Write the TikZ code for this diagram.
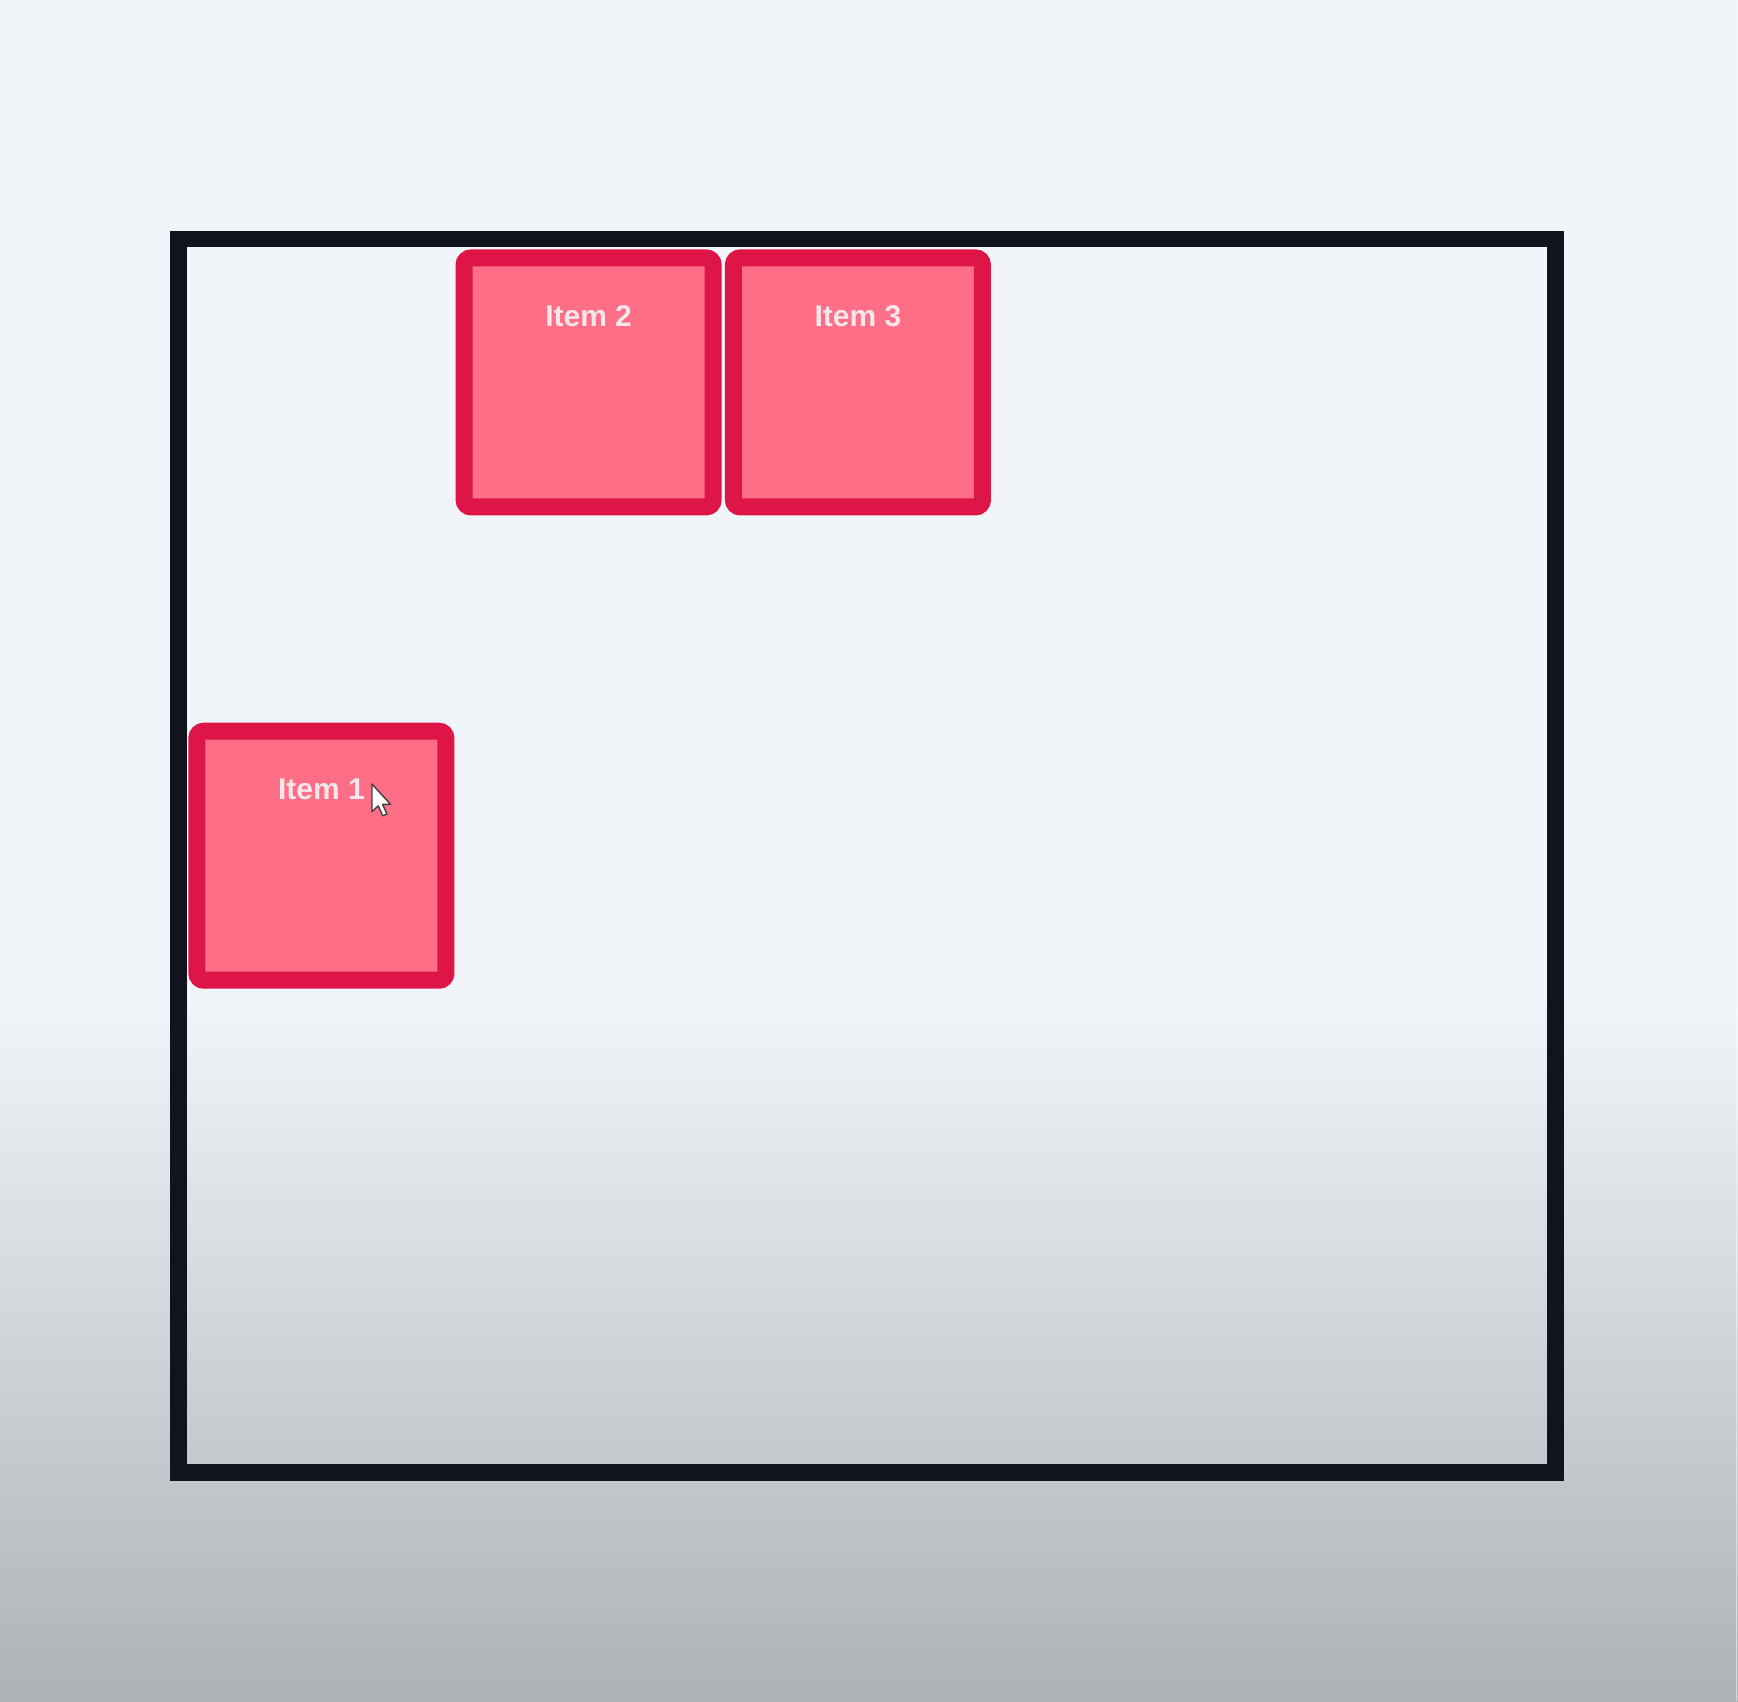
\documentclass[tikz,border=0pt]{standalone}
\usepackage{fontspec}
\setmainfont{Liberation Sans}
\definecolor{bgtop}{HTML}{F1F4F8}
\definecolor{bgbot}{HTML}{AEB2B6}
\definecolor{frame}{HTML}{11141C}
\definecolor{itemfill}{HTML}{FF6E87}
\definecolor{itemline}{HTML}{DE1648}
\definecolor{itemtxt}{HTML}{FBE6EB}
\begin{document}
\begin{tikzpicture}[x=1pt,y=-1pt,
  itembox/.style={draw=itemline, fill=itemfill, line width=17pt, rounded corners=7pt,
    minimum width=249pt, minimum height=249pt, outer sep=0pt, inner sep=0pt},
  itemlabel/.style={text=itemtxt, font=\fontsize{30}{36}\selectfont\bfseries, inner sep=0pt},
  framebox/.style={draw=frame, line width=16.5pt, minimum width=1377pt, minimum height=1233.5pt,
    outer sep=0pt, inner sep=0pt}]
\useasboundingbox (0,0) rectangle (1738,1701);
% background
\fill[bgtop] (0,0) rectangle (1738,1000);
\shade[top color=bgtop, bottom color=bgbot] (0,999) rectangle (1738,1701);
\draw[white, opacity=0.5, line width=1.5pt] (1736.5,0) -- (1736.5,1701);
% container
\node[framebox] (container) at (866.9,855.6) {};
% items
\node[itembox] (i2) at (588.6,382.4) {};
\node[itembox] (i3) at (857.9,382.4) {};
\node[itembox] (i1) at (321.4,855.7) {};
\node[itemlabel] (t2) at ([yshift=-58pt]i2.north) {Item 2};
\node[itemlabel] (t3) at ([yshift=-58pt]i3.north) {Item 3};
\node[itemlabel] (t1) at ([yshift=-58pt]i1.north) {Item 1};
% mouse cursor
\begin{scope}[shift={(372,784)}, scale=1.2]
\draw[fill=white, draw=black!75, line width=1.4pt, line join=round]
  (0,0) -- (0,23) -- (5.2,18.2) -- (9,26.5) -- (12.5,25) -- (8.8,17) -- (15.5,17) -- cycle;
\end{scope}
\end{tikzpicture}
\end{document}
